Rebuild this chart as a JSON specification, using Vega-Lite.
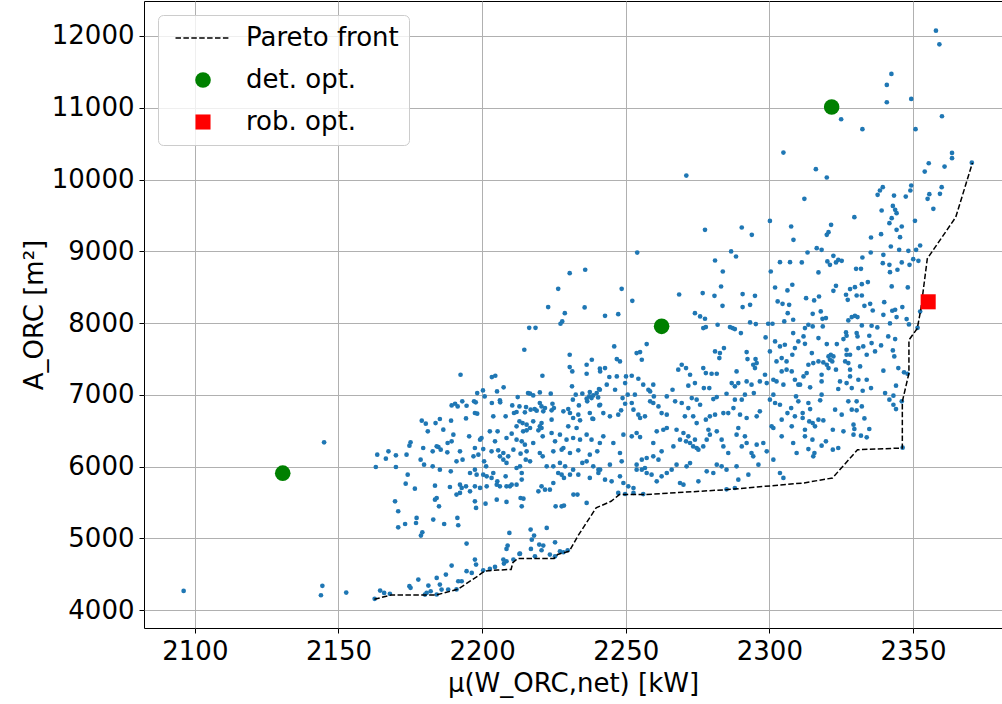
{
"$schema":"https://vega.github.io/schema/vega-lite/v6.json",
"autosize":{"type":"none"},
"width":858,"height":627,
"padding":{"left":144,"top":1,"right":0,"bottom":76},
"background":"white",
"datasets":{
"scatter":[
{"x":2197.5,"y":6748},{"x":2198.3,"y":6738},{"x":2185.3,"y":6664},{"x":2179.0,"y":6641},{"x":2183.8,"y":6608},{"x":2180.4,"y":6599},{"x":2189.2,"y":6641},{"x":2194.4,"y":6673},{"x":2203.9,"y":6701},{"x":2208.2,"y":6701},{"x":2211.1,"y":6748},{"x":2212.0,"y":6762},{"x":2214.9,"y":6757},{"x":2216.9,"y":6794},{"x":2219.0,"y":6780},{"x":2221.3,"y":6771},{"x":2224.2,"y":6785},{"x":2228.3,"y":6771},{"x":2230.6,"y":6748},{"x":2233.5,"y":6724},{"x":2237.5,"y":6748},{"x":2238.7,"y":6664},{"x":2213.0,"y":6632},{"x":2214.1,"y":6608},{"x":2215.5,"y":6585},{"x":2217.8,"y":6632},{"x":2220.7,"y":6608},{"x":2224.2,"y":6655},{"x":2231.7,"y":6678},{"x":2234.1,"y":6646},{"x":2230.0,"y":6562},{"x":2232.9,"y":6539},{"x":2238.4,"y":6669},{"x":2181.1,"y":6492},{"x":2186.5,"y":6516},{"x":2190.0,"y":6446},{"x":2189.4,"y":6353},{"x":2188.0,"y":6330},{"x":2184.8,"y":6274},{"x":2175.1,"y":6339},{"x":2174.7,"y":6293},{"x":2195.5,"y":6423},{"x":2199.8,"y":6400},{"x":2199.3,"y":6376},{"x":2202.7,"y":6492},{"x":2205.4,"y":6492},{"x":2204.5,"y":6353},{"x":2208.5,"y":6400},{"x":2210.3,"y":6460},{"x":2212.0,"y":6562},{"x":2214.3,"y":6492},{"x":2215.5,"y":6506},{"x":2216.7,"y":6539},{"x":2219.6,"y":6506},{"x":2220.1,"y":6562},{"x":2220.7,"y":6539},{"x":2212.0,"y":6376},{"x":2213.8,"y":6353},{"x":2214.9,"y":6307},{"x":2217.8,"y":6330},{"x":2221.1,"y":6423},{"x":2224.2,"y":6469},{"x":2227.1,"y":6446},{"x":2229.4,"y":6376},{"x":2231.7,"y":6400},{"x":2234.1,"y":6376},{"x":2236.4,"y":6446},{"x":2238.1,"y":6376},{"x":2241.0,"y":6330},{"x":2225.4,"y":6353},{"x":2228.3,"y":6260},{"x":2179.5,"y":6260},{"x":2182.8,"y":6214},{"x":2185.6,"y":6237},{"x":2187.9,"y":6200},{"x":2184.2,"y":6284},{"x":2192.3,"y":6214},{"x":2197.5,"y":6260},{"x":2200.4,"y":6246},{"x":2203.3,"y":6214},{"x":2205.6,"y":6228},{"x":2207.4,"y":6191},{"x":2209.1,"y":6144},{"x":2210.9,"y":6237},{"x":2213.4,"y":6181},{"x":2215.5,"y":6214},{"x":2220.1,"y":6191},{"x":2221.1,"y":6144},{"x":2224.8,"y":6214},{"x":2227.7,"y":6237},{"x":2230.6,"y":6191},{"x":2233.5,"y":6228},{"x":2237.5,"y":6168},{"x":2240.1,"y":6214},{"x":2163.5,"y":6168},{"x":2167.4,"y":6214},{"x":2166.5,"y":6112},{"x":2170.0,"y":6158},{"x":2173.7,"y":6168},{"x":2178.6,"y":6098},{"x":2179.8,"y":6028},{"x":2182.8,"y":6005},{"x":2185.3,"y":5959},{"x":2189.1,"y":5936},{"x":2191.1,"y":6075},{"x":2193.2,"y":6098},{"x":2197.0,"y":6144},{"x":2198.7,"y":6168},{"x":2200.7,"y":6075},{"x":2201.4,"y":6005},{"x":2197.5,"y":5959},{"x":2206.2,"y":6144},{"x":2207.4,"y":6098},{"x":2208.5,"y":6052},{"x":2212.0,"y":5982},{"x":2213.2,"y":6005},{"x":2215.2,"y":6098},{"x":2216.7,"y":6075},{"x":2222.5,"y":6005},{"x":2224.8,"y":6005},{"x":2227.1,"y":6052},{"x":2228.9,"y":6005},{"x":2231.7,"y":5959},{"x":2234.9,"y":6052},{"x":2236.4,"y":6075},{"x":2238.7,"y":6005},{"x":2240.5,"y":5959},{"x":2163.0,"y":5996},{"x":2170.0,"y":5996},{"x":2174.1,"y":5889},{"x":2173.4,"y":5764},{"x":2176.6,"y":5694},{"x":2183.6,"y":5736},{"x":2188.8,"y":5717},{"x":2192.3,"y":5750},{"x":2192.9,"y":5704},{"x":2195.8,"y":5912},{"x":2198.1,"y":5889},{"x":2200.4,"y":5889},{"x":2201.6,"y":5866},{"x":2203.9,"y":5912},{"x":2203.3,"y":5843},{"x":2205.3,"y":5796},{"x":2208.2,"y":5866},{"x":2213.8,"y":5912},{"x":2213.8,"y":5820},{"x":2210.3,"y":5750},{"x":2208.5,"y":5727},{"x":2206.2,"y":5727},{"x":2201.6,"y":5727},{"x":2199.3,"y":5704},{"x":2197.5,"y":5727},{"x":2195.8,"y":5657},{"x":2194.4,"y":5727},{"x":2191.1,"y":5611},{"x":2192.3,"y":5634},{"x":2205.1,"y":5750},{"x":2209.7,"y":5727},{"x":2212.0,"y":5750},{"x":2220.7,"y":5727},{"x":2223.6,"y":5680},{"x":2226.5,"y":5912},{"x":2227.7,"y":5889},{"x":2228.5,"y":5843},{"x":2230.6,"y":5889},{"x":2233.5,"y":5889},{"x":2237.5,"y":5843},{"x":2240.5,"y":5912},{"x":2221.9,"y":5680},{"x":2219.6,"y":5657},{"x":2224.8,"y":5773},{"x":2169.7,"y":5518},{"x":2170.8,"y":5379},{"x":2184.2,"y":5564},{"x":2183.6,"y":5541},{"x":2185.0,"y":5448},{"x":2177.2,"y":5286},{"x":2183.0,"y":5263},{"x":2177.0,"y":5216},{"x":2173.2,"y":5202},{"x":2170.8,"y":5156},{"x":2186.8,"y":5202},{"x":2191.4,"y":5286},{"x":2191.7,"y":5184},{"x":2197.5,"y":5518},{"x":2197.9,"y":5425},{"x":2201.2,"y":5485},{"x":2205.1,"y":5541},{"x":2208.5,"y":5509},{"x":2213.4,"y":5564},{"x":2213.8,"y":5448},{"x":2214.4,"y":5555},{"x":2225.6,"y":5448},{"x":2227.7,"y":5448},{"x":2228.5,"y":5458},{"x":2231.8,"y":5611},{"x":2233.2,"y":5611},{"x":2236.4,"y":5495},{"x":2222.5,"y":5147},{"x":2179.2,"y":5086},{"x":2178.7,"y":5040},{"x":2194.6,"y":4929},{"x":2209.5,"y":5077},{"x":2208.9,"y":4901},{"x":2208.5,"y":4854},{"x":2216.9,"y":5124},{"x":2217.3,"y":4984},{"x":2218.1,"y":5040},{"x":2219.9,"y":4915},{"x":2220.7,"y":4836},{"x":2217.0,"y":4854},{"x":2221.3,"y":4901},{"x":2225.4,"y":4947},{"x":2213.2,"y":4789},{"x":2207.4,"y":4706},{"x":2207.6,"y":4650},{"x":2208.5,"y":4683},{"x":2197.5,"y":4706},{"x":2197.9,"y":4636},{"x":2189.4,"y":4622},{"x":2187.4,"y":4497},{"x":2184.2,"y":4451},{"x":2182.1,"y":4265},{"x":2180.7,"y":4242},{"x":2180.1,"y":4219},{"x":2177.8,"y":4428},{"x":2174.7,"y":4335},{"x":2175.1,"y":4312},{"x":2164.5,"y":4274},{"x":2165.9,"y":4242},{"x":2167.9,"y":4230},{"x":2181.3,"y":4344},{"x":2185.3,"y":4358},{"x":2188.2,"y":4288},{"x":2191.1,"y":4290},{"x":2191.7,"y":4404},{"x":2192.9,"y":4404},{"x":2194.6,"y":4544},{"x":2196.4,"y":4520},{"x":2200.4,"y":4557},{"x":2202.7,"y":4576},{"x":2204.5,"y":4604},{"x":2210.9,"y":4706},{"x":2213.0,"y":4785},{"x":2218.4,"y":4752},{"x":2223.6,"y":4776},{"x":2225.4,"y":4752},{"x":2227.1,"y":4822},{"x":2228.3,"y":4808},{"x":2229.8,"y":4836},{"x":2162.6,"y":4160},{"x":2184.2,"y":4220},{"x":2185.9,"y":4288},
{"x":2235.9,"y":8743},{"x":2230.5,"y":8696},{"x":2226.5,"y":8478},{"x":2223.0,"y":8223},{"x":2228.8,"y":8139},{"x":2227.9,"y":8023},{"x":2227.3,"y":7991},{"x":2235.7,"y":8218},{"x":2216.4,"y":7935},{"x":2218.6,"y":7935},{"x":2214.7,"y":7629},{"x":2230.5,"y":7559},{"x":2238.2,"y":7490},{"x":2236.4,"y":7420},{"x":2230.5,"y":7388},{"x":2231.4,"y":7327},{"x":2241.0,"y":7365},{"x":2192.5,"y":7281},{"x":2203.4,"y":7248},{"x":2204.6,"y":7267},{"x":2221.0,"y":7267},{"x":2207.5,"y":7105},{"x":2205.2,"y":7049},{"x":2200.3,"y":7063},{"x":2198.3,"y":7026},{"x":2231.3,"y":7119},{"x":2241.0,"y":7072},{"x":2239.9,"y":7026},{"x":2238.7,"y":6993},{"x":2237.3,"y":6979},{"x":2236.4,"y":6947},{"x":2236.6,"y":6910},{"x":2232.6,"y":7003},{"x":2234.9,"y":7017},{"x":2223.9,"y":7017},{"x":2220.1,"y":7035},{"x":2216.0,"y":7026},{"x":2216.7,"y":7017},{"x":2217.8,"y":6993},{"x":2212.4,"y":6970},{"x":2210.5,"y":6854},{"x":2206.2,"y":6924},{"x":2206.3,"y":6896},{"x":2203.4,"y":6887},{"x":2200.9,"y":6979},{"x":2197.2,"y":6910},{"x":2197.8,"y":6896},{"x":2193.1,"y":6910},{"x":2194.6,"y":6849},{"x":2189.4,"y":6854},{"x":2190.6,"y":6877},{"x":2191.5,"y":6840},{"x":2215.3,"y":6831},{"x":2218.3,"y":6803},{"x":2220.7,"y":6840},{"x":2224.5,"y":6877},{"x":2231.6,"y":6933},{"x":2233.7,"y":6854},{"x":2240.8,"y":6854},{"x":2225.0,"y":6817},{"x":2230.0,"y":6803},{"x":2236.4,"y":7295},{"x":2237.5,"y":7040},{"x":2240.4,"y":6965},{"x":2238.1,"y":6956},{"x":2240.7,"y":7082},{"x":2213.0,"y":6840},{"x":2220.1,"y":6887},{"x":2221.9,"y":6817},
{"x":2271.1,"y":10055},{"x":2254.0,"y":8983},{"x":2248.6,"y":8478},{"x":2268.6,"y":8399},
{"x":2242.8,"y":8102},{"x":2247.4,"y":8125},{"x":2252.3,"y":8311},{"x":2274.1,"y":8139},{"x":2275.9,"y":8093},{"x":2277.6,"y":8061},{"x":2277.0,"y":7931},{"x":2277.9,"y":7945},{"x":2282.0,"y":7977},{"x":2283.7,"y":8241},{"x":2286.3,"y":7945},{"x":2287.2,"y":7931},{"x":2288.0,"y":7917},{"x":2290.1,"y":7861},{"x":2290.7,"y":8223},{"x":2293.3,"y":8255},{"x":2293.3,"y":8009},{"x":2295.3,"y":7986},{"x":2298.7,"y":7801},{"x":2299.6,"y":7991},{"x":2301.1,"y":7991},{"x":2302.9,"y":8302},{"x":2304.6,"y":8269},{"x":2306.9,"y":8255},{"x":2306.4,"y":8139},{"x":2305.2,"y":8023},{"x":2308.3,"y":8047},{"x":2246.0,"y":7675},{"x":2253.8,"y":7583},{"x":2255.0,"y":7597},{"x":2255.6,"y":7490},{"x":2257.3,"y":7708},{"x":2246.9,"y":7499},{"x":2248.0,"y":7467},{"x":2281.1,"y":7606},{"x":2282.6,"y":7513},{"x":2284.2,"y":7652},{"x":2282.8,"y":7583},{"x":2292.1,"y":7597},{"x":2292.4,"y":7499},{"x":2294.4,"y":7420},{"x":2295.2,"y":7499},{"x":2295.6,"y":7443},{"x":2295.0,"y":7374},{"x":2300.2,"y":7606},{"x":2302.0,"y":7745},{"x":2303.7,"y":7675},{"x":2305.4,"y":7699},{"x":2302.5,"y":7467},{"x":2304.3,"y":7513},{"x":2306.0,"y":7467},{"x":2308.0,"y":7559},{"x":2308.9,"y":7652},{"x":2310.1,"y":7745},{"x":2308.3,"y":7861},{"x":2242.8,"y":7374},{"x":2241.1,"y":7327},{"x":2244.3,"y":7249},{"x":2246.9,"y":7258},{"x":2250.1,"y":7258},{"x":2252.1,"y":7267},{"x":2254.4,"y":7225},{"x":2249.8,"y":7165},{"x":2243.4,"y":7142},{"x":2246.3,"y":7072},{"x":2250.7,"y":7003},{"x":2253.2,"y":7003},{"x":2256.1,"y":7142},{"x":2257.9,"y":7072},{"x":2258.5,"y":7049},{"x":2259.6,"y":7142},{"x":2259.8,"y":6979},{"x":2248.9,"y":6956},{"x":2264.3,"y":6979},{"x":2266.3,"y":7072},{"x":2268.3,"y":7351},{"x":2269.5,"y":7420},{"x":2271.0,"y":7374},{"x":2272.4,"y":7281},{"x":2274.1,"y":7165},{"x":2271.8,"y":7128},{"x":2277.0,"y":7374},{"x":2277.9,"y":7304},{"x":2279.9,"y":7295},{"x":2281.7,"y":7295},{"x":2279.1,"y":7095},{"x":2277.2,"y":7095},{"x":2281.7,"y":6970},{"x":2280.5,"y":6942},{"x":2285.1,"y":7016},{"x":2286.9,"y":7165},{"x":2288.6,"y":7327},{"x":2289.2,"y":7165},{"x":2288.0,"y":7119},{"x":2292.1,"y":7188},{"x":2293.8,"y":7142},{"x":2294.6,"y":7026},{"x":2296.7,"y":7188},{"x":2298.5,"y":7281},{"x":2299.1,"y":7165},{"x":2301.4,"y":7211},{"x":2302.5,"y":7188},{"x":2304.9,"y":7142},{"x":2304.3,"y":7327},{"x":2306.0,"y":7351},{"x":2307.8,"y":7327},{"x":2308.9,"y":7211},{"x":2310.1,"y":7142},{"x":2309.3,"y":6979},{"x":2291.5,"y":7003},{"x":2301.4,"y":7003},{"x":2290.4,"y":6933},{"x":2241.1,"y":6863},{"x":2242.2,"y":6747},{"x":2244.5,"y":6701},{"x":2247.4,"y":6724},{"x":2248.4,"y":6785},{"x":2249.8,"y":6877},{"x":2252.1,"y":6887},{"x":2252.7,"y":6794},{"x":2254.4,"y":6724},{"x":2255.0,"y":6678},{"x":2256.7,"y":6701},{"x":2258.5,"y":6910},{"x":2259.6,"y":6887},{"x":2261.4,"y":6840},{"x":2262.5,"y":6747},{"x":2264.3,"y":6724},{"x":2267.2,"y":6910},{"x":2269.5,"y":6887},{"x":2271.8,"y":6817},{"x":2273.0,"y":6956},{"x":2274.7,"y":6933},{"x":2275.9,"y":6863},{"x":2270.6,"y":6701},{"x":2273.5,"y":6701},{"x":2274.7,"y":6608},{"x":2277.9,"y":6655},{"x":2279.3,"y":6701},{"x":2281.1,"y":6724},{"x":2284.0,"y":6747},{"x":2285.7,"y":6747},{"x":2287.5,"y":6817},{"x":2288.0,"y":6933},{"x":2289.8,"y":6724},{"x":2292.1,"y":6678},{"x":2295.6,"y":6701},{"x":2296.7,"y":6771},{"x":2300.2,"y":6933},{"x":2302.0,"y":6887},{"x":2303.7,"y":6863},{"x":2306.3,"y":6747},{"x":2308.9,"y":6701},{"x":2307.6,"y":6817},{"x":2310.1,"y":6910},{"x":2300.8,"y":6562},{"x":2301.4,"y":6539},{"x":2304.3,"y":6655},{"x":2307.8,"y":6562},{"x":2242.2,"y":6423},{"x":2245.7,"y":6330},{"x":2249.2,"y":6446},{"x":2252.1,"y":6423},{"x":2253.8,"y":6469},{"x":2255.0,"y":6413},{"x":2259.6,"y":6330},{"x":2260.8,"y":6492},{"x":2263.1,"y":6515},{"x":2264.3,"y":6539},{"x":2267.7,"y":6515},{"x":2266.6,"y":6283},{"x":2268.9,"y":6376},{"x":2270.1,"y":6469},{"x":2271.8,"y":6423},{"x":2271.0,"y":6353},{"x":2272.4,"y":6330},{"x":2274.1,"y":6376},{"x":2273.5,"y":6283},{"x":2274.7,"y":6260},{"x":2275.3,"y":6237},{"x":2277.0,"y":6283},{"x":2278.2,"y":6376},{"x":2279.3,"y":6446},{"x":2278.8,"y":6515},{"x":2281.7,"y":6492},{"x":2283.4,"y":6376},{"x":2284.0,"y":6283},{"x":2285.7,"y":6191},{"x":2288.6,"y":6446},{"x":2289.2,"y":6539},{"x":2291.5,"y":6423},{"x":2292.1,"y":6330},{"x":2290.4,"y":6283},{"x":2295.6,"y":6307},{"x":2297.9,"y":6330},{"x":2293.8,"y":6191},{"x":2294.4,"y":6144},{"x":2299.1,"y":6214},{"x":2301.4,"y":6098},{"x":2304.3,"y":6423},{"x":2308.3,"y":6330},{"x":2309.5,"y":6191},{"x":2248.0,"y":6191},{"x":2248.6,"y":6075},{"x":2244.5,"y":6028},{"x":2255.6,"y":6098},{"x":2257.3,"y":6121},{"x":2259.6,"y":6144},{"x":2261.4,"y":6098},{"x":2256.7,"y":5982},{"x":2253.8,"y":6028},{"x":2262.5,"y":6214},{"x":2241.1,"y":5959},{"x":2242.8,"y":5819},{"x":2245.1,"y":5796},{"x":2248.0,"y":5866},{"x":2249.2,"y":5773},{"x":2250.9,"y":5727},{"x":2252.7,"y":5703},{"x":2253.8,"y":5959},{"x":2255.6,"y":5959},{"x":2257.3,"y":5912},{"x":2259.0,"y":5889},{"x":2260.8,"y":5796},{"x":2262.5,"y":5866},{"x":2264.3,"y":5912},{"x":2266.0,"y":5959},{"x":2267.7,"y":6028},{"x":2268.9,"y":5773},{"x":2270.1,"y":5750},{"x":2271.2,"y":6005},{"x":2272.4,"y":6051},{"x":2275.3,"y":5796},{"x":2278.2,"y":5935},{"x":2280.5,"y":5912},{"x":2281.7,"y":6028},{"x":2283.4,"y":6005},{"x":2285.1,"y":5959},{"x":2288.6,"y":6005},{"x":2289.2,"y":5819},{"x":2292.7,"y":5889},{"x":2296.2,"y":6028},{"x":2303.7,"y":5912},{"x":2304.9,"y":5843},{"x":2252.7,"y":5634},{"x":2256.1,"y":5618},{"x":2249.8,"y":5620},{"x":2247.4,"y":5634},{"x":2285.1,"y":5685},{"x":2288.0,"y":5703},
{"x":2304.9,"y":10376},{"x":2316.2,"y":10144},{"x":2320.0,"y":10028},{"x":2312.2,"y":9731},{"x":2300.2,"y":9424},{"x":2290.4,"y":9332},{"x":2293.9,"y":9230},{"x":2277.6,"y":9299},{"x":2307.6,"y":9346},{"x":2308.4,"y":9160},{"x":2286.7,"y":8998},{"x":2288.4,"y":8928},{"x":2281.1,"y":8872},{"x":2283.8,"y":8719},{"x":2303.7,"y":8849},{"x":2307.2,"y":8849},{"x":2300.5,"y":8719},{"x":2276.8,"y":8418},{"x":2283.2,"y":8510},{"x":2280.9,"y":8380},{"x":2290.7,"y":8404},{"x":2295.0,"y":8380},{"x":2302.0,"y":8496},{"x":2306.3,"y":8455},{"x":2308.0,"y":8534},{"x":2325.0,"y":10840},
{"x":2329.6,"y":9476},{"x":2339.1,"y":9569},{"x":2343.0,"y":9633},{"x":2343.8,"y":9578},{"x":2344.3,"y":9531},{"x":2341.8,"y":9392},{"x":2342.6,"y":9462},{"x":2346.1,"y":9346},{"x":2344.3,"y":9299},{"x":2345.5,"y":9197},{"x":2350.7,"y":9425},{"x":2357.1,"y":9592},{"x":2321.5,"y":9369},{"x":2320.0,"y":9230},{"x":2320.6,"y":9267},{"x":2318.2,"y":9021},{"x":2316.5,"y":9044},{"x":2313.3,"y":8984},{"x":2311.3,"y":8845},{"x":2317.1,"y":8706},{"x":2320.2,"y":8859},{"x":2321.1,"y":8812},{"x":2322.3,"y":8937},{"x":2324.0,"y":8882},{"x":2325.2,"y":8868},{"x":2323.2,"y":8845},{"x":2335.4,"y":9193},{"x":2338.9,"y":9239},{"x":2335.3,"y":8984},{"x":2339.7,"y":8951},{"x":2342.3,"y":9067},{"x":2345.2,"y":9021},{"x":2348.4,"y":9007},{"x":2351.1,"y":9021},{"x":2352.5,"y":9081},{"x":2350.1,"y":8891},{"x":2351.9,"y":8868},{"x":2339.5,"y":8835},{"x":2341.8,"y":8812},{"x":2342.0,"y":8710},{"x":2344.6,"y":8743},{"x":2346.1,"y":8845},{"x":2348.8,"y":8812},{"x":2332.4,"y":8914},{"x":2330.2,"y":8756},{"x":2331.9,"y":8756},{"x":2334.3,"y":8571},{"x":2332.2,"y":8543},{"x":2329.8,"y":8501},{"x":2328.1,"y":8474},{"x":2323.2,"y":8520},{"x":2322.3,"y":8450},{"x":2326.7,"y":8395},{"x":2327.3,"y":8325},{"x":2330.4,"y":8385},{"x":2332.2,"y":8385},{"x":2312.8,"y":8348},{"x":2315.6,"y":8316},{"x":2317.3,"y":8371},{"x":2333.1,"y":8241},{"x":2335.1,"y":8269},{"x":2336.0,"y":8176},{"x":2340.0,"y":8292},{"x":2339.7,"y":8116},{"x":2342.8,"y":8172},{"x":2343.8,"y":8186},{"x":2344.3,"y":8084},{"x":2346.3,"y":8223},{"x":2347.8,"y":8056},{"x":2348.2,"y":8497},{"x":2342.6,"y":8511},{"x":2315.1,"y":8130},{"x":2317.9,"y":8163},{"x":2318.5,"y":8060},{"x":2319.7,"y":8070},{"x":2328.7,"y":8084},{"x":2329.8,"y":8102},{"x":2330.7,"y":8084},{"x":2327.5,"y":8037},{"x":2315.1,"y":7954},{"x":2312.4,"y":7931},{"x":2313.6,"y":7977},{"x":2318.6,"y":7954},{"x":2332.2,"y":7968},{"x":2335.6,"y":7963},{"x":2337.6,"y":7940},{"x":2342.0,"y":7996},{"x":2348.6,"y":7982},{"x":2326.7,"y":7870},{"x":2326.9,"y":7824},{"x":2330.4,"y":7861},{"x":2330.7,"y":7815},{"x":2334.8,"y":7824},{"x":2335.6,"y":7722},{"x":2338.9,"y":7689},{"x":2341.4,"y":7815},{"x":2343.8,"y":7777},{"x":2325.8,"y":7777},{"x":2323.5,"y":7708},{"x":2320.0,"y":7708},{"x":2317.1,"y":7791},{"x":2311.9,"y":7815},{"x":2312.4,"y":7712},{"x":2314.8,"y":7583},{"x":2317.1,"y":7467},{"x":2318.8,"y":7453},{"x":2320.6,"y":7536},{"x":2321.1,"y":7490},{"x":2321.4,"y":7559},{"x":2321.9,"y":7467},{"x":2322.3,"y":7536},{"x":2320.0,"y":7420},{"x":2320.6,"y":7374},{"x":2326.9,"y":7629},{"x":2326.9,"y":7559},{"x":2328.1,"y":7559},{"x":2326.4,"y":7467},{"x":2327.5,"y":7443},{"x":2328.1,"y":7351},{"x":2331.0,"y":7652},{"x":2332.7,"y":7675},{"x":2333.9,"y":7559},{"x":2331.6,"y":7397},{"x":2336.8,"y":7606},{"x":2339.7,"y":7337},{"x":2343.0,"y":7620},{"x":2343.5,"y":7536},{"x":2344.9,"y":7374},{"x":2346.9,"y":7314},{"x":2348.1,"y":7295},{"x":2315.3,"y":7443},{"x":2313.6,"y":7420},{"x":2313.0,"y":7304},{"x":2311.9,"y":7258},{"x":2310.7,"y":7142},{"x":2314.2,"y":7105},{"x":2318.2,"y":7281},{"x":2318.2,"y":7188},{"x":2323.2,"y":7351},{"x":2324.6,"y":7188},{"x":2326.9,"y":7165},{"x":2328.1,"y":7258},{"x":2331.0,"y":7211},{"x":2333.9,"y":7211},{"x":2335.4,"y":7095},{"x":2332.5,"y":7058},{"x":2328.7,"y":7095},{"x":2324.0,"y":7082},{"x":2318.2,"y":7003},{"x":2313.6,"y":6887},{"x":2314.2,"y":6803},{"x":2317.7,"y":6924},{"x":2311.6,"y":6747},{"x":2322.9,"y":6794},{"x":2325.2,"y":6724},{"x":2327.5,"y":6910},{"x":2328.7,"y":6794},{"x":2330.4,"y":6910},{"x":2332.2,"y":6840},{"x":2330.4,"y":6785},{"x":2340.3,"y":7026},{"x":2341.8,"y":6933},{"x":2343.2,"y":6863},{"x":2344.1,"y":6803},{"x":2343.2,"y":6989},{"x":2344.1,"y":7128},{"x":2346.1,"y":6910},{"x":2333.1,"y":6673},{"x":2329.3,"y":6585},{"x":2329.6,"y":6525},{"x":2325.8,"y":6492},{"x":2322.1,"y":6515},{"x":2334.8,"y":6525},{"x":2331.9,"y":6432},{"x":2333.9,"y":6409},{"x":2329.3,"y":6446},{"x":2319.7,"y":6353},{"x":2318.2,"y":6293},{"x":2315.0,"y":6376},{"x":2315.3,"y":6144},{"x":2315.7,"y":6191},{"x":2312.4,"y":6515},{"x":2312.4,"y":6423},{"x":2315.1,"y":6608},{"x":2315.9,"y":6562},{"x":2317.1,"y":6655},{"x":2318.8,"y":6645},{"x":2322.1,"y":6237},{"x":2324.0,"y":6260},{"x":2311.6,"y":6678},{"x":2313.9,"y":6631},{"x":2313.6,"y":6246},{"x":2346.4,"y":6265},{"x":2351.6,"y":7935},{"x":2352.5,"y":8162},
{"x":2358.0,"y":12074},{"x":2359.2,"y":11884},{"x":2342.5,"y":11471},{"x":2340.9,"y":11318},{"x":2340.9,"y":11077},{"x":2349.4,"y":11123},{"x":2332.4,"y":10701},{"x":2350.9,"y":10701},{"x":2360.1,"y":10882},{"x":2363.6,"y":10371},{"x":2363.6,"y":10297},{"x":2355.5,"y":10227},{"x":2354.1,"y":10111},{"x":2361.0,"y":10181},{"x":2370.5,"y":10235},{"x":2349.4,"y":9917},{"x":2349.1,"y":9847},{"x":2339.5,"y":9893},{"x":2338.5,"y":9847},{"x":2337.7,"y":9787},{"x":2343.4,"y":9777},{"x":2347.5,"y":9763},{"x":2360.0,"y":9893},{"x":2359.4,"y":9801},{"x":2355.7,"y":9796},{"x":2355.1,"y":9731},
{"x":2145.0,"y":6339},{"x":2096.1,"y":4270},{"x":2144.4,"y":4340},{"x":2143.9,"y":4209},{"x":2152.7,"y":4246}
],
"pareto":[
{"i":1,"x":2162.5,"y":4153},{"i":2,"x":2168.3,"y":4212},{"i":3,"x":2184.0,"y":4212},{"i":4,"x":2191.5,"y":4292},{"i":5,"x":2198.5,"y":4476},{"i":6,"x":2200.8,"y":4546},{"i":7,"x":2205.5,"y":4560},{"i":8,"x":2210.1,"y":4569},{"i":9,"x":2210.7,"y":4662},{"i":10,"x":2212.4,"y":4722},{"i":11,"x":2225.1,"y":4722},{"i":12,"x":2226.3,"y":4778},{"i":13,"x":2230.4,"y":4824},{"i":14,"x":2233.3,"y":5032},{"i":15,"x":2239.7,"y":5426},{"i":16,"x":2244.9,"y":5518},{"i":17,"x":2247.8,"y":5611},{"i":18,"x":2256.5,"y":5611},{"i":19,"x":2285.5,"y":5681},{"i":20,"x":2312.1,"y":5774},{"i":21,"x":2322.0,"y":5843},{"i":22,"x":2330.7,"y":6236},{"i":23,"x":2346.3,"y":6260},{"i":24,"x":2346.3,"y":6907},{"i":25,"x":2348.6,"y":7301},{"i":26,"x":2348.6,"y":7764},{"i":27,"x":2351.5,"y":7926},{"i":28,"x":2352.7,"y":8181},{"i":29,"x":2355.0,"y":8899},{"i":30,"x":2364.9,"y":9476},{"i":31,"x":2370.7,"y":10232}
],
"opt":[
{"series":"det. opt.","x":2130.6,"y":5910},{"series":"det. opt.","x":2262.5,"y":7955},{"series":"det. opt.","x":2321.7,"y":11011},{"series":"rob. opt.","x":2355.3,"y":8297}
]
},
"encoding":{
"x":{"field":"x","type":"quantitative","scale":{"domain":[2082.3,2381.0],"nice":false,"zero":false},
 "axis":{"values":[2100,2150,2200,2250,2300,2350],"format":"d","title":"μ(W_ORC,net) [kW]","titlePadding":6}},
"y":{"field":"y","type":"quantitative","scale":{"domain":[3753,12487],"nice":false,"zero":false},
 "axis":{"values":[4000,5000,6000,7000,8000,9000,10000,11000,12000],"format":"d","title":"A_ORC [m²]","titlePadding":4}}
},
"layer":[
{"data":{"name":"scatter"},"mark":{"type":"circle","color":"#1f77b4","size":22,"opacity":1}},
{"data":{"name":"pareto"},"mark":{"type":"line","color":"#000000","strokeWidth":1.5,"strokeDash":[5.5,2.4]},
 "encoding":{"order":{"field":"i","type":"quantitative"}}},
{"data":{"name":"opt"},"mark":{"type":"point","filled":true,"opacity":1,"strokeWidth":0},
 "encoding":{
  "color":{"field":"series","type":"nominal","scale":{"domain":["Pareto front","det. opt.","rob. opt."],"range":["#000000","#008000","#ff0000"]},"legend":{"title":null}},
  "shape":{"field":"series","type":"nominal","scale":{"domain":["Pareto front","det. opt.","rob. opt."],"range":["M-3.41,-0.09L-2.73,-0.09L-2.73,0.09L-3.41,0.09Z M-2.43,-0.09L-1.75,-0.09L-1.75,0.09L-2.43,0.09Z M-1.45,-0.09L-0.77,-0.09L-0.77,0.09L-1.45,0.09Z M-0.47,-0.09L0.21,-0.09L0.21,0.09L-0.47,0.09Z M0.51,-0.09L1.19,-0.09L1.19,0.09L0.51,0.09Z M1.49,-0.09L2.17,-0.09L2.17,0.09L1.49,0.09Z M2.47,-0.09L3.15,-0.09L3.15,0.09L2.47,0.09Z","circle","square"]},"legend":{"title":null}},
  "size":{"field":"series","type":"nominal","scale":{"domain":["Pareto front","det. opt.","rob. opt."],"range":[260,227,289]},"legend":null}
 }}
],
"config":{
"view":{"stroke":"#000000","strokeWidth":1},
"axis":{"domain":false,"grid":true,"gridColor":"#b0b0b0","gridWidth":1,"tickColor":"#000000","tickSize":5,"tickWidth":1,"labelFont":"DejaVu Sans","labelFontSize":26,"labelColor":"#000000","labelPadding":5,"titleFont":"DejaVu Sans","titleFontSize":26,"titleFontWeight":"normal","titleColor":"#000000"},
"legend":{"orient":"top-left","offset":14,"fillColor":"rgba(255,255,255,0.8)","strokeColor":"#cccccc","cornerRadius":5,"padding":10,"symbolSize":260,"symbolOffset":22,"labelOffset":30,"labelFont":"DejaVu Sans","labelFontSize":26,"labelColor":"#000000","rowPadding":16,"symbolStrokeWidth":0,"symbolOpacity":1}
}
}
